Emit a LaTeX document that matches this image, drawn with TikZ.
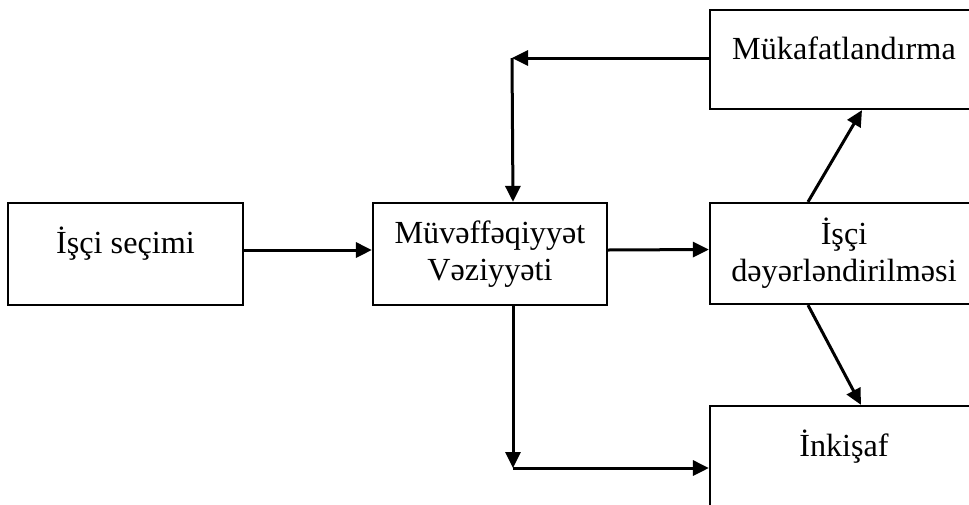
\documentclass[tikz,border=0pt]{standalone}
\usepackage{fontspec}
\setmainfont{Liberation Serif}
\usetikzlibrary{arrows.meta}

\tikzset{
  box/.style={draw, line width=2.2pt, minimum width=268pt, minimum height=102pt, inner sep=0pt,
    align=center, font=\fontsize{32.2}{37}\selectfont},
  topbox/.style={box, text height=50pt, text depth=52pt},
  arr/.style={-{Triangle[length=16pt,width=15pt]}, line width=3pt},
}

\begin{document}
\begin{tikzpicture}[x=1pt, y=-1pt]
  \useasboundingbox (0,0) rectangle (969,504);
  \clip (0,0) rectangle (969,504);

  % blocks
  \node[topbox, minimum width=235pt] (secim) at (125.5,254) {İşçi seçimi};
  \node[box, minimum width=234pt] (muv) at (490,254) {Müvəffəqiyyət\\Vəziyyəti};
  \node[topbox, minimum height=99pt, text height=49pt, text depth=50pt] (muk) at (844,59.5) {Mükafatlandırma};
  \node[box, minimum height=101pt] (dey) at (844,253.5) {İşçi\\dəyərləndirilməsi};
  \node[topbox] (ink) at (844,457) {İnkişaf};

  % bends of the feedback lines
  \coordinate (top) at (512,58);
  \coordinate (low) at (513,468);

  % arrows
  \draw[arr] ([yshift=4pt]secim.east) -- ([yshift=4pt]muv.west);
  \draw[arr] ([yshift=4pt]muv.east) -- ([yshift=4pt]dey.west);
  \draw[arr] ([yshift=1.5pt]muk.west) -- (top);
  \draw[arr] (top) -- ([xshift=23pt]muv.north);
  \draw[arr] ([xshift=-36pt]dey.north) -- ([xshift=18pt]muk.south);
  \draw[arr] ([xshift=-36pt]dey.south) -- ([xshift=17pt]ink.north);
  \draw[arr] ([xshift=23pt]muv.south) -- (low);
  \draw[arr] (low) -- (ink.west |- low);
\end{tikzpicture}
\end{document}
